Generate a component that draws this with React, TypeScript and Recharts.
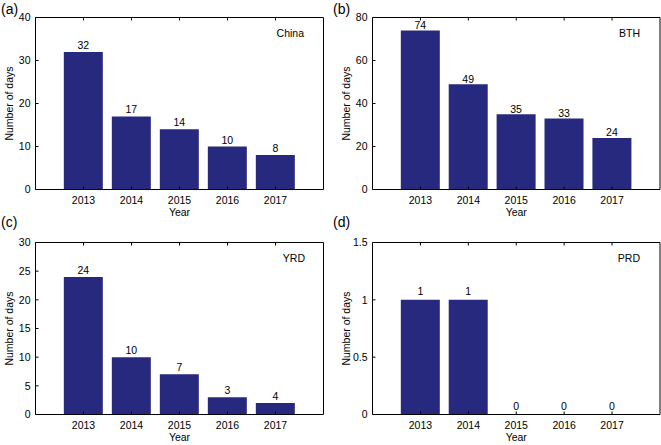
import React from "react";
import { BarChart, Bar, XAxis, YAxis, LabelList } from "recharts";

const years = ["2013", "2014", "2015", "2016", "2017"];
const chinaDays = [32, 17, 14, 10, 8];
const bthDays = [74, 49, 35, 33, 24];
const yrdDays = [24, 10, 7, 3, 2];
// printed numbers above the YRD bars (the 2017 bar is ~2 but says 4 in the figure)
const yrdLabels = ["24", "10", "7", "3", "4"];
const prdDays = [1, 1, 0, 0, 0];

const chinaTicks = [0, 10, 20, 30, 40];
const bthTicks = [0, 20, 40, 60, 80];
const yrdTicks = [0, 5, 10, 15, 20, 25, 30];
const prdTicks = [0, 0.5, 1, 1.5];

const FONT = '"Liberation Sans", Arial, sans-serif';
const BAR = "#27297f";
const FS = 10.5;

interface Panel {
  tag: string;
  region: string;
  values: number[];
  labels: string[];
  ticks: number[];
  left: number;
  top: number;
  width: number;
  height: number;
  margin: { top: number; right: number; bottom: number; left: number };
  yWidth: number;
  xHeight: number;
  labelOffset: number;
}

// margins leave 1px for the top / right frame axes
const panels: Panel[] = [
  {
    tag: "(a)", region: "China", values: chinaDays, labels: chinaDays.map(String), ticks: chinaTicks,
    left: 0, top: 0, width: 330, height: 222,
    margin: { top: 16.5, right: 5.5, bottom: 0, left: 0 }, yWidth: 35.5, xHeight: 32.5, labelOffset: 3,
  },
  {
    tag: "(b)", region: "BTH", values: bthDays, labels: bthDays.map(String), ticks: bthTicks,
    left: 330, top: 0, width: 331, height: 222,
    margin: { top: 16.5, right: 0, bottom: 0, left: 0 }, yWidth: 42.5, xHeight: 32.5, labelOffset: 1.5,
  },
  {
    tag: "(c)", region: "YRD", values: yrdDays, labels: yrdLabels, ticks: yrdTicks,
    left: 0, top: 222, width: 330, height: 223,
    margin: { top: 19.5, right: 5.5, bottom: 0, left: 0 }, yWidth: 35.5, xHeight: 30.5, labelOffset: 3,
  },
  {
    tag: "(d)", region: "PRD", values: prdDays, labels: prdDays.map(String), ticks: prdTicks,
    left: 330, top: 222, width: 331, height: 223,
    margin: { top: 19.5, right: 0, bottom: 0, left: 0 }, yWidth: 42.5, xHeight: 30.5, labelOffset: 4.5,
  },
];

const BottomTick = ({ x, y, payload }: any) => (
  <g>
    <line x1={x} x2={x} y1={y} y2={y - 3} stroke="#000" />
    <text x={x} y={y + 14.5} textAnchor="middle" fontSize={FS} fontFamily={FONT} fill="#000">
      {payload.value}
    </text>
  </g>
);

const TopTick = ({ x, y }: any) => <line x1={x} x2={x} y1={y} y2={y + 3} stroke="#000" />;

const LeftTick = ({ x, y, payload }: any) => (
  <g>
    <line x1={x} x2={x + 3} y1={y} y2={y} stroke="#000" />
    <text x={x - 5} y={y} dy="0.35em" textAnchor="end" fontSize={FS} fontFamily={FONT} fill="#000">
      {payload.value}
    </text>
  </g>
);

const RightTick = ({ x, y }: any) => <line x1={x} x2={x - 3} y1={y} y2={y} stroke="#000" />;

const YLabel = (props: any) => {
  const { x, y, width, height } = props.viewBox;
  const cx = x + width - 22.5;
  const cy = y + height / 2;
  return (
    <text x={cx} y={cy} transform={`rotate(-90 ${cx} ${cy})`} textAnchor="middle" fontSize={FS} fontFamily={FONT} fill="#000">
      Number of days
    </text>
  );
};

const XLabel = (props: any) => {
  const { x, y, width } = props.viewBox;
  return (
    <text x={x + width / 2} y={y + 26.5} textAnchor="middle" fontSize={FS} fontFamily={FONT} fill="#000">
      Year
    </text>
  );
};

function PanelChart({ p }: { p: Panel }) {
  const data = years.map((year, i) => ({ year, days: p.values[i], label: p.labels[i] }));
  const max = p.ticks[p.ticks.length - 1];
  const pad = { left: 24, right: 24 };
  return (
    <BarChart width={p.width} height={p.height} data={data} margin={p.margin} barCategoryGap="9%">
      <XAxis
        xAxisId="bottom" dataKey="year" height={p.xHeight} padding={pad} interval={0}
        tickSize={0} tickMargin={0} tickLine={false} axisLine={{ stroke: "#000" }}
        tick={(t: any) => <BottomTick {...t} />} label={(l: any) => <XLabel {...l} />}
      />
      <XAxis
        xAxisId="top" orientation="top" dataKey="year" height={1} padding={pad} interval={0}
        tickSize={0} tickMargin={0} tickLine={false} axisLine={{ stroke: "#000" }}
        tick={(t: any) => <TopTick {...t} />}
      />
      <YAxis
        yAxisId="left" type="number" domain={[0, max]} ticks={p.ticks} interval={0} width={p.yWidth}
        tickSize={0} tickMargin={0} tickLine={false} axisLine={{ stroke: "#000" }}
        tick={(t: any) => <LeftTick {...t} />} label={(l: any) => <YLabel {...l} />}
      />
      <YAxis
        yAxisId="right" orientation="right" type="number" domain={[0, max]} ticks={p.ticks} interval={0} width={1}
        tickSize={0} tickMargin={0} tickLine={false} axisLine={{ stroke: "#000" }}
        tick={(t: any) => <RightTick {...t} />}
      />
      <Bar xAxisId="bottom" yAxisId="left" dataKey="days" fill={BAR} minPointSize={0.01} isAnimationActive={false}>
        <LabelList dataKey="label" position="top" offset={p.labelOffset} fill="#000" fontSize={FS} fontFamily={FONT} />
      </Bar>
    </BarChart>
  );
}

// panel tags and region names, positioned in page pixels
const tagPos = [
  { x: 1, y: 14 },
  { x: 333, y: 14 },
  { x: 1, y: 227 },
  { x: 333, y: 227 },
];
const regionPos = [
  { x: 304, y: 37 },
  { x: 640, y: 37 },
  { x: 305, y: 262 },
  { x: 640, y: 262 },
];

export default function App() {
  return (
    <div style={{ position: "absolute", left: 0, top: 0, width: 661, height: 445, background: "#fff" }}>
      {panels.map((p) => (
        <div key={p.tag} style={{ position: "absolute", left: p.left, top: p.top }}>
          <PanelChart p={p} />
        </div>
      ))}
      <svg width={661} height={445} style={{ position: "absolute", left: 0, top: 0, pointerEvents: "none" }}>
        {panels.map((p, i) => (
          <g key={p.tag}>
            <text x={tagPos[i].x} y={tagPos[i].y} fontSize={14} fontFamily={FONT} fill="#000">
              {p.tag}
            </text>
            <text x={regionPos[i].x} y={regionPos[i].y} textAnchor="end" fontSize={FS} fontFamily={FONT} fill="#000">
              {p.region}
            </text>
          </g>
        ))}
      </svg>
    </div>
  );
}
